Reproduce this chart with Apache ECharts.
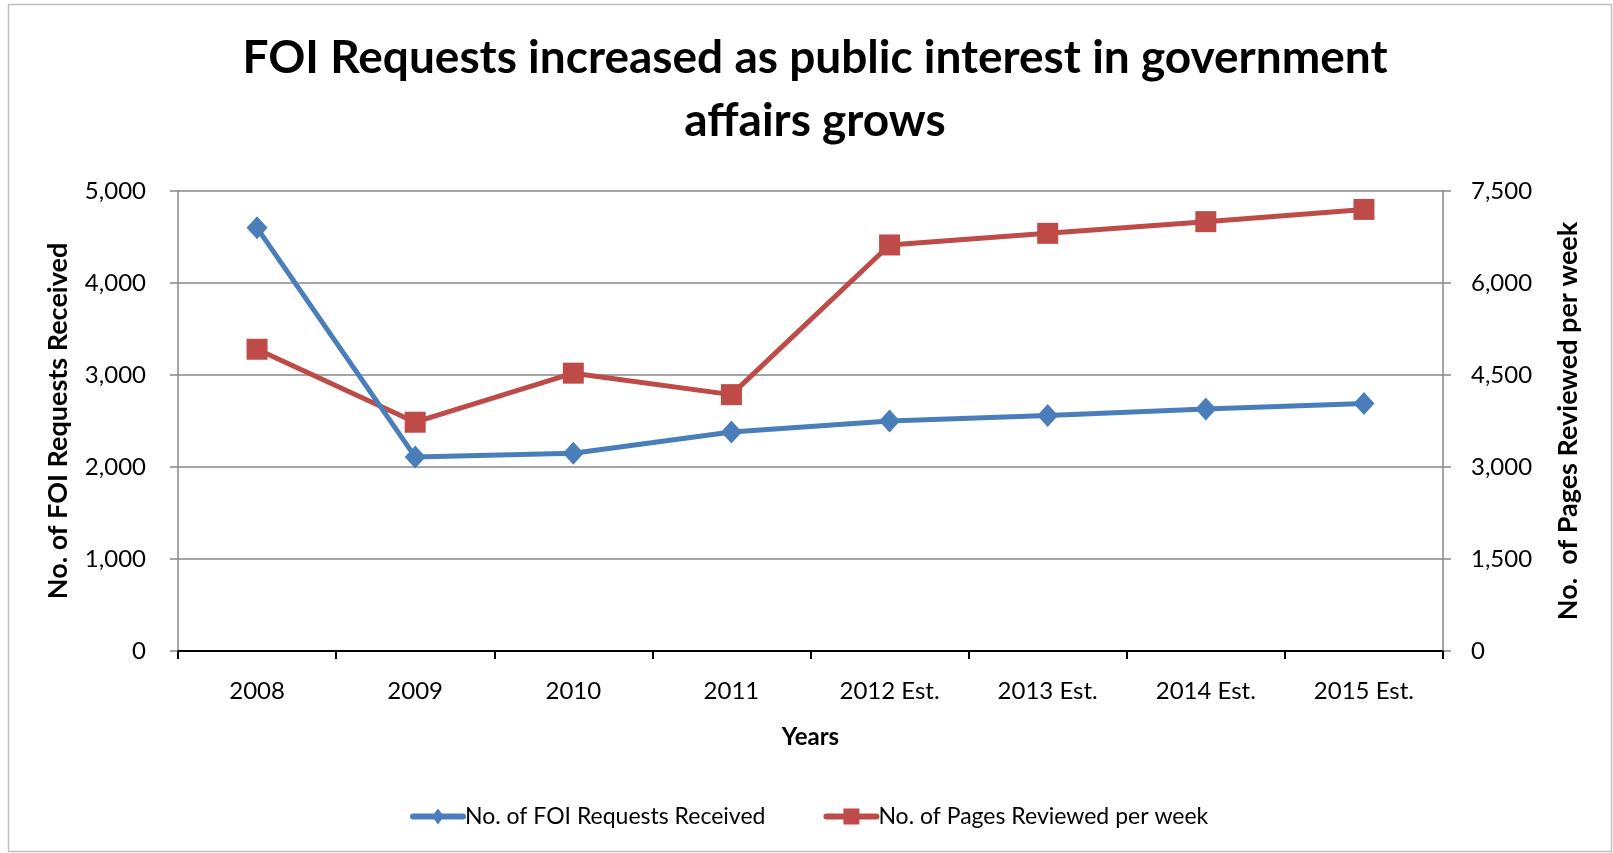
<!DOCTYPE html>
<html>
<head>
<meta charset="utf-8">
<title>FOI Requests</title>
<script src="https://cdn.jsdelivr.net/npm/echarts@6/dist/echarts.min.js"></script>
<style>
  html, body { margin: 0; padding: 0; background: #fff; }
  #chart { width: 1613px; height: 853px; }
</style>
</head>
<body>
<div id="chart"></div>
<script>
// Chart data
const years = ['2008', '2009', '2010', '2011', '2012 Est.', '2013 Est.', '2014 Est.', '2015 Est.'];
const foiRequests = [4600, 2110, 2150, 2380, 2500, 2560, 2630, 2690];
const pagesReviewed = [4920, 3730, 4530, 4180, 6620, 6810, 7000, 7200];
const leftTicks = { min: 0, max: 5000, interval: 1000 };
const rightTicks = { min: 0, max: 7500, interval: 1500 };

const FONT = 'Lato, "Open Sans", sans-serif';
const GRID_GREY = '#878787';
const BLUE = '#4A7EBB';
const RED = '#BE4B48';
const SERIES_A = 'No. of FOI Requests Received';
const SERIES_B = 'No. of Pages Reviewed per week';

// Legend keys: a thick round-capped stroke with the series marker on top (56 x 16 box)
const KEY_BAR = 'M3,5 L53,5 A3,3 0 0 1 53,11 L3,11 A3,3 0 0 1 3,5 Z ';
const KEY_DIAMOND = 'path://' + KEY_BAR + 'M28,0 L34,8 L28,16 L22,8 Z';
const KEY_SQUARE = 'path://' + KEY_BAR + 'M20,0 L36,0 L36,16 L20,16 Z';

const chart = echarts.init(document.getElementById('chart'), null, { renderer: 'canvas' });

chart.setOption({
  animation: false,
  backgroundColor: '#ffffff',
  textStyle: { fontFamily: FONT, color: '#000' },
  graphic: [{
    type: 'rect',
    shape: { x: 8.5, y: 4.5, width: 1603, height: 847 },
    style: { fill: 'none', stroke: '#BFBFBF', lineWidth: 1.5 },
    silent: true,
    z: -10
  }],
  title: {
    text: 'FOI Requests increased as public interest in government\naffairs grows',
    left: 810,
    textAlign: 'center',
    top: 22,
    textStyle: {
      fontFamily: FONT,
      fontSize: 46,
      fontWeight: 'bold',
      color: '#000',
      lineHeight: 63
    }
  },
  legend: {
    bottom: 20,
    left: 405,
    itemWidth: 56,
    itemHeight: 16,
    itemGap: 58,
    itemStyle: { borderWidth: 0 },
    textStyle: { fontFamily: FONT, fontSize: 23, color: '#000', padding: [0, 0, 0, -6] },
    data: [
      { name: SERIES_A, icon: KEY_DIAMOND },
      { name: SERIES_B, icon: KEY_SQUARE }
    ]
  },
  grid: { left: 178, right: 170, top: 191, bottom: 202, containLabel: false },
  xAxis: {
    type: 'category',
    data: years,
    boundaryGap: true,
    name: 'Years',
    nameLocation: 'middle',
    nameGap: 74,
    nameTextStyle: { fontFamily: FONT, fontSize: 24, fontWeight: 'bold', color: '#000' },
    axisLine: { lineStyle: { color: '#000', width: 2 } },
    axisTick: { show: true, length: 8, lineStyle: { color: '#000', width: 2 } },
    axisLabel: { margin: 28, fontFamily: FONT, fontSize: 24, color: '#000' },
    splitLine: { show: false }
  },
  yAxis: [{
    type: 'value',
    position: 'left',
    min: leftTicks.min,
    max: leftTicks.max,
    interval: leftTicks.interval,
    name: SERIES_A,
    nameLocation: 'middle',
    nameGap: 106,
    nameTextStyle: { fontFamily: FONT, fontSize: 27, fontWeight: 'bold', color: '#000' },
    axisLine: { show: true, lineStyle: { color: GRID_GREY, width: 1.5 } },
    axisTick: { show: true, length: 8, lineStyle: { color: GRID_GREY, width: 1.5 } },
    axisLabel: { margin: 32, fontFamily: FONT, fontSize: 24, color: '#000' },
    splitLine: { show: true, lineStyle: { color: GRID_GREY, width: 1.5 } }
  }, {
    type: 'value',
    position: 'right',
    min: rightTicks.min,
    max: rightTicks.max,
    interval: rightTicks.interval,
    name: 'No.  of Pages Reviewed per week',
    nameLocation: 'middle',
    nameGap: 112,
    nameTextStyle: { fontFamily: FONT, fontSize: 27, fontWeight: 'bold', color: '#000' },
    axisLine: { show: true, lineStyle: { color: GRID_GREY, width: 1.5 } },
    axisTick: { show: true, length: 8, lineStyle: { color: GRID_GREY, width: 1.5 } },
    axisLabel: { margin: 28, fontFamily: FONT, fontSize: 24, color: '#000' },
    splitLine: { show: false }
  }],
  series: [{
    name: SERIES_A,
    type: 'line',
    yAxisIndex: 0,
    data: foiRequests,
    symbol: 'diamond',
    symbolSize: [21, 23],
    z: 4,
    itemStyle: { color: BLUE },
    lineStyle: { color: BLUE, width: 5 }
  }, {
    name: SERIES_B,
    type: 'line',
    yAxisIndex: 1,
    data: pagesReviewed,
    symbol: 'rect',
    symbolSize: 21,
    z: 3,
    itemStyle: { color: RED },
    lineStyle: { color: RED, width: 5 }
  }]
});
</script>
</body>
</html>
